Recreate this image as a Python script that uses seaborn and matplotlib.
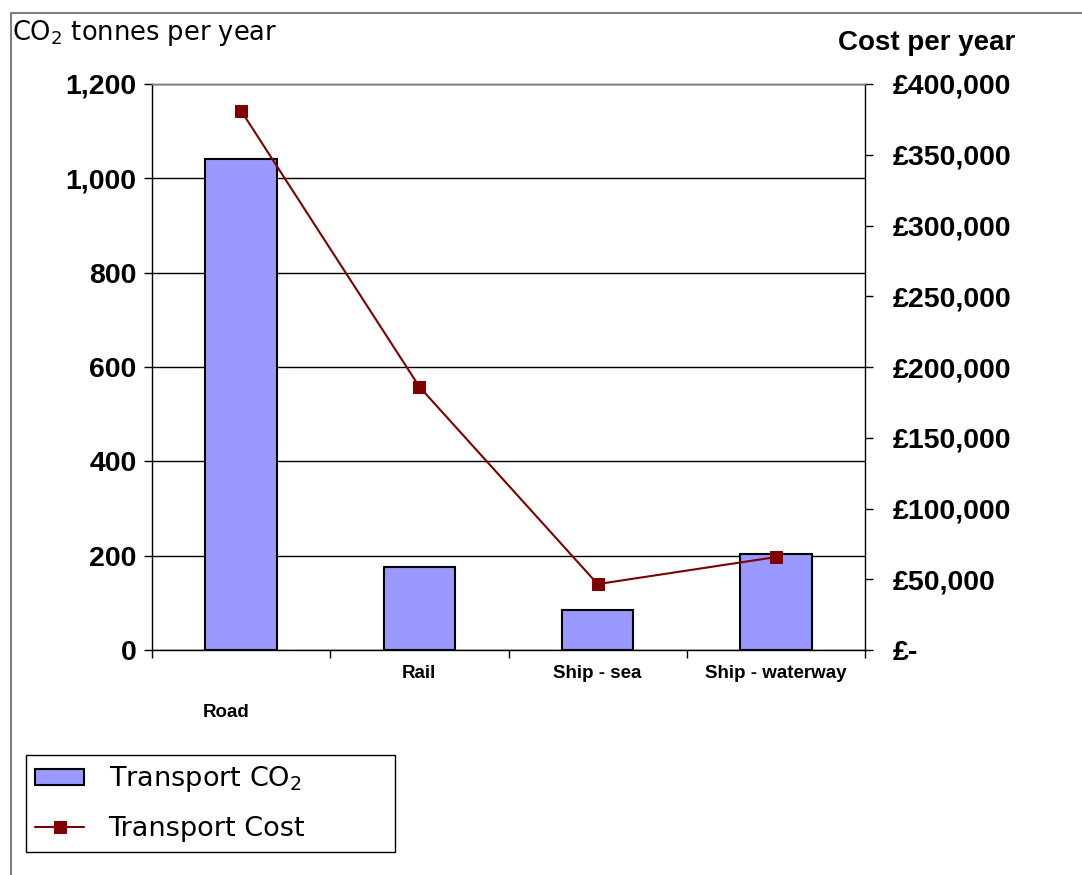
import matplotlib.pyplot as plt
import seaborn as sns
import pandas as pd
from matplotlib.lines import Line2D
from matplotlib.transforms import ScaledTranslation

modes = ["Road", "Rail", "Ship - sea", "Ship - waterway"]
co2_tonnes = [1042, 177, 84, 203]
cost_gbp = [381000, 186000, 46600, 65700]

co2_ticks = [0, 200, 400, 600, 800, 1000, 1200]
cost_ticks = [0, 50000, 100000, 150000, 200000, 250000, 300000, 350000, 400000]

bar_color = "#9999FF"
line_color = "#800000"
tick_font = "Liberation Sans"

sns.set_style("white")
plt.rcParams["font.family"] = ["DejaVu Sans"]
plt.rcParams["mathtext.fontset"] = "dejavusans"
for key in ("text.color", "axes.labelcolor", "xtick.color", "ytick.color"):
    plt.rcParams[key] = "black"

df = pd.DataFrame({"mode": modes, "co2": co2_tonnes, "cost": cost_gbp})

fig = plt.figure(figsize=(10.82, 8.75), dpi=100)
ax = fig.add_axes([0.1405, 0.2571, 0.659, 0.6469])

# bars - CO2
sns.barplot(data=df, x="mode", y="co2", color=bar_color, saturation=1,
            width=0.4, edgecolor="black", linewidth=1.5, ax=ax, zorder=3)
ax.set_ylim(0, 1200)
ax.set_xlim(-0.5, 3.5)
ax.set_yticks(co2_ticks, labels=[f"{v:,}" for v in co2_ticks],
              fontsize=20.5, fontweight="bold", family=tick_font)
ax.yaxis.grid(True, color="black", linewidth=1)
ax.set_axisbelow(True)
ax.tick_params(axis="y", left=True, length=6, width=1, pad=5, color="black")

ax.set_xticks(range(len(modes)), labels=modes, fontsize=13.5,
              fontweight="bold", family=tick_font)
ax.set_xticks([i - 0.5 for i in range(len(modes) + 1)], minor=True)
ax.tick_params(axis="x", which="major", length=0, pad=11)
ax.tick_params(axis="x", which="minor", bottom=True, length=6, width=1, color="black")
ax.set_xlabel("")

# excel staggers the first label lower
road = ax.get_xticklabels()[0]
road.set_transform(road.get_transform() +
                   ScaledTranslation(-0.15, -0.39, fig.dpi_scale_trans))

ax.set_ylabel("CO$_2$ tonnes per year", rotation=0, fontsize=18.5,
              ha="left", va="center")
ax.yaxis.set_label_coords(-0.196, 1.090)

# line - cost
ax2 = ax.twinx()
sns.lineplot(data=df, x="mode", y="cost", ax=ax2, color=line_color, sort=False,
             marker="s", markersize=8.6, markeredgecolor=line_color, linewidth=1.5)
ax2.set_ylim(0, 400000)
ax2.set_yticks(cost_ticks,
               labels=[f"£{v:,}" if v else "£-" for v in cost_ticks],
               fontsize=20.5, fontweight="bold", family=tick_font)
ax2.tick_params(axis="y", right=True, length=6, width=1, pad=14, color="black")
ax2.set_xlabel("")
ax2.set_ylabel("Cost per year", rotation=0, fontsize=20, fontweight="bold",
               family=tick_font, ha="right", va="center")
ax2.yaxis.set_label_coords(1.2104, 1.0724)

for a in (ax, ax2):
    for s in a.spines.values():
        s.set_color("black")
        s.set_linewidth(1)
    a.spines["top"].set_color("#808080")
ax.spines["right"].set_visible(False)
ax2.spines["left"].set_visible(False)
ax2.spines["bottom"].set_visible(False)

fig.legend(handles=[ax.patches[0], ax2.lines[0]],
           labels=["Transport CO$_2$", "Transport Cost"],
           loc="upper left", mode="expand",
           bbox_to_anchor=(26 / 1082, 1 - 851 / 875, 369 / 1082, 96 / 875),
           bbox_transform=fig.transFigure, fontsize=19.5,
           frameon=True, fancybox=False, edgecolor="black", framealpha=1,
           handlelength=1.8, handleheight=0.55, handletextpad=0.9,
           borderpad=0.35, labelspacing=0.8, borderaxespad=0)

# outer chart border (top and left only visible)
fig.add_artist(Line2D([11 / 1082, 1], [1 - 13 / 875] * 2,
                      transform=fig.transFigure, color="#808080", linewidth=1.5))
fig.add_artist(Line2D([11 / 1082] * 2, [0, 1 - 13 / 875],
                      transform=fig.transFigure, color="#808080", linewidth=1.5))

fig.savefig("out.png", dpi=100)
